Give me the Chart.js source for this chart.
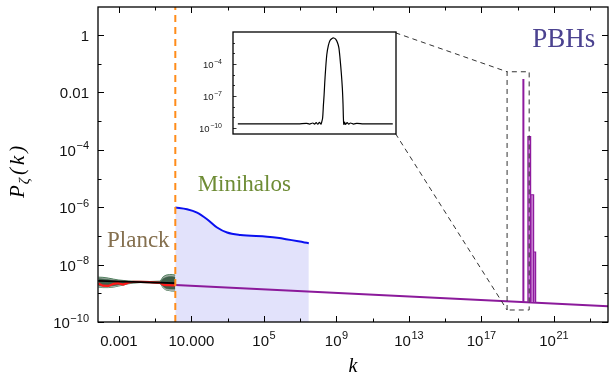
<!DOCTYPE html>
<html>
<head>
<meta charset="utf-8">
<script src="https://cdn.jsdelivr.net/npm/chart.js@4.4.1/dist/chart.umd.min.js"></script>
<style>
  html, body { margin: 0; padding: 0; background: #fff; }
  #wrap { position: relative; width: 609px; height: 383px; }
  #main { position: absolute; left: 0; top: 0; }
  #inset { position: absolute; left: 200px; top: 25px; }
</style>
</head>
<body>
<div id="wrap">
  <canvas id="main" width="609" height="383"></canvas>
  <canvas id="inset" width="200" height="115"></canvas>
</div>
<script>
// axis ticks ("^" starts the exponent)
var xTicks = [1e-3, 10, 1e5, 1e9, 1e13, 1e17, 1e21];
var xTickLabels = ["0.001", "10.000", "10^5", "10^9", "10^13", "10^17", "10^21"];
var xMinorTicks = [0.1, 1e3, 1e7, 1e11, 1e15, 1e19, 1e23];
var yTicks = [1e-10, 1e-8, 1e-6, 1e-4, 0.01, 1];
var yTickLabels = ["10^−10", "10^−8", "10^−6", "10^−4", "0.01", "1"];
var yMinorTicks = [1e-9, 1e-7, 1e-5, 1e-3, 0.1];

// Planck constraints
var planckK = [7.4e-5, 1.3e-4, 2.6e-4, 5e-4, 9e-4, 1.7e-3, 3.2e-3, 6e-3, 1.5e-2, 0.05, 0.19, 0.28, 0.4, 0.6, 0.87, 1.29];
var planckOuterHi = [3.66e-9, 3.60e-9, 3.39e-9, 3.13e-9, 2.93e-9, 2.81e-9, 2.70e-9, 2.64e-9, 2.62e-9, 2.58e-9, 2.66e-9, 3.82e-9, 4.31e-9, 4.49e-9, 4.49e-9, 4.31e-9];
var planckOuterLo = [1.64e-9, 1.58e-9, 1.58e-9, 1.64e-9, 1.78e-9, 1.93e-9, 2.13e-9, 2.27e-9, 2.36e-9, 2.32e-9, 2.18e-9, 1.52e-9, 1.29e-9, 1.24e-9, 1.19e-9, 1.19e-9];
var planckInnerHi = [3.25e-9, 3.18e-9, 3.00e-9, 2.81e-9, 2.70e-9, 2.64e-9, 2.58e-9, 2.54e-9, 2.52e-9, 2.50e-9, 2.52e-9, 3.25e-9, 3.66e-9, 3.82e-9, 3.82e-9, 3.66e-9];
var planckInnerLo = [1.85e-9, 1.78e-9, 1.78e-9, 1.85e-9, 1.96e-9, 2.07e-9, 2.23e-9, 2.32e-9, 2.40e-9, 2.38e-9, 2.28e-9, 1.71e-9, 1.48e-9, 1.42e-9, 1.40e-9, 1.40e-9];
var planckRed = [2.18e-9, 1.85e-9, 1.81e-9, 2.13e-9, 2.27e-9, 2.01e-9, 2.36e-9, 2.52e-9, 2.50e-9, 2.44e-9, 2.32e-9, 2.01e-9, 1.93e-9, 1.93e-9, 1.88e-9, 1.88e-9];
var planckFitK = [7.2e-5, 1.29];
var planckFitP = [2.70e-9, 2.27e-9];

// scale-invariant spectrum
var tiltK = [1.29, 9.6e23];
var tiltP = [1.93e-9, 3.52e-10];

// minihalo bound
var cutoffK = 1.29;
var miniK = [1.29, 5.7, 20.4, 72.8, 259, 927, 5040, 1.5e5, 5.4e5, 2.99e7];
var miniP = [9.8e-7, 8.5e-7, 6.5e-7, 3.82e-7, 1.96e-7, 1.31e-7, 1.08e-7, 9.4e-8, 8.65e-8, 5.57e-8];

// PBH peaks
var spikeLeftK = [2.06e19, 3.66e19, 5.16e19, 7.18e19];
var spikeRightK = [2.06e19, 5.16e19, 7.55e19, 9.75e19];
var spikePeak = [2.93e-2, 2.87e-4, 2.72e-6, 2.75e-8];
var spikeBase = 5.0e-10;

// zoom box and inset
var zoomBoxK = [2.6e18, 4.3e19];
var zoomBoxP = [2.62e-10, 5.26e-2];
var insetCornerK = 1.8e12;
var insetCornerP = [3.7e-4, 1.2];
var insetLogK = [18.456, 18.906, 18.967, 18.991, 19.015, 19.028, 19.040, 19.052, 19.064, 19.076, 19.082, 19.088, 19.094, 19.099, 19.106, 19.119, 19.131, 19.143, 19.158, 19.171, 19.185, 19.199, 19.209, 19.218, 19.227, 19.235, 19.240, 19.243, 19.246, 19.252, 19.258, 19.271, 19.283, 19.295, 19.319, 19.343, 19.392, 19.611];
var insetP = [2.5e-10, 2.5e-10, 2.8e-10, 2.4e-10, 3.0e-10, 2.4e-10, 3.2e-10, 2.3e-10, 3.5e-10, 2.3e-10, 4e-10, 8.7e-10, 1.5e-8, 1.26e-7, 5e-6, 7.4e-4, 5.5e-3, 1.6e-2, 2.5e-2, 2.75e-2, 2.1e-2, 1.0e-2, 3.5e-3, 3.2e-4, 1.6e-5, 5.6e-7, 2e-8, 8.7e-10, 2.2e-10, 3.6e-10, 2.2e-10, 3.2e-10, 2.3e-10, 3.0e-10, 2.4e-10, 2.8e-10, 2.5e-10, 2.5e-10];
var insetYTicks = [1e-10, 1e-7, 1e-4];
var insetYTickLabels = ["10^−10", "10^−7", "10^−4"];
var insetYMinor = [1e-9, 1e-8, 1e-6, 1e-5, 1e-3, 1e-2];

var annotations = [
  { text: "PBHs", k: 3.5e21, p: 0.37, color: "#4b4290", size: 27, align: "center" },
  { text: "Minihalos", k: 22, p: 3.7e-6, color: "#6e8c35", size: 23, align: "left" },
  { text: "Planck", k: 2.2e-4, p: 4.0e-8, color: "#85704f", size: 23, align: "left" }
];

function pts(xs, ys) {
  return xs.map(function (x, i) { return { x: x, y: ys[i] }; });
}

var serif = "'Liberation Serif', 'Times New Roman', serif";
var sans = "'Liberation Sans', Arial, sans-serif";

// tick label with optional raised exponent
function drawLabel(ctx, label, x, y, align, size, expSize, raise) {
  var parts = label.split('^');
  ctx.font = size + 'px ' + sans;
  var w1 = ctx.measureText(parts[0]).width;
  var w2 = 0;
  if (parts[1]) {
    ctx.font = expSize + 'px ' + sans;
    w2 = ctx.measureText(parts[1]).width + 0.5;
  }
  var x0 = align === 'right' ? x - w1 - w2 : (align === 'center' ? x - (w1 + w2) / 2 : x);
  ctx.textAlign = 'left';
  ctx.textBaseline = 'alphabetic';
  ctx.font = size + 'px ' + sans;
  ctx.fillText(parts[0], x0, y);
  if (parts[1]) {
    ctx.font = expSize + 'px ' + sans;
    ctx.fillText(parts[1], x0 + w1 + 0.5, y - raise);
  }
}

var datasets = [
  { data: pts(planckK, planckOuterHi), fill: '+1', backgroundColor: '#a8b0a9', borderColor: '#4f7f5e', borderWidth: 1, order: 5 },
  { data: pts(planckK, planckOuterLo), fill: false, borderColor: '#4f7f5e', borderWidth: 1, order: 5 },
  { data: pts(planckK, planckInnerHi), fill: '+1', backgroundColor: '#3f5e4a', borderColor: '#3f6a50', borderWidth: 0.5, order: 4 },
  { data: pts(planckK, planckInnerLo), fill: false, borderColor: '#3f6a50', borderWidth: 0.5, order: 4 },
  { data: pts(planckK, planckRed), borderColor: '#ff1a1a', borderWidth: 2.2, order: 3 },
  { data: pts(planckFitK, planckFitP), borderColor: '#000', borderWidth: 1.8, order: 2 },
  { data: pts(tiltK, tiltP), borderColor: '#8b1a9b', borderWidth: 2, order: 6 },
  { data: pts(miniK, miniP), fill: 'start', backgroundColor: '#e2e2fb', borderColor: '#0a10f0', borderWidth: 2, cubicInterpolationMode: 'monotone', order: 7 },
  { data: [{ x: cutoffK, y: 1e-10 }, { x: cutoffK, y: 9.5 }], borderColor: '#ff8c1a', borderWidth: 2, borderDash: [7, 5], order: 1 },
  { data: [{ x: zoomBoxK[0], y: zoomBoxP[0] }, { x: zoomBoxK[0], y: zoomBoxP[1] }, { x: zoomBoxK[1], y: zoomBoxP[1] }, { x: zoomBoxK[1], y: zoomBoxP[0] }, { x: zoomBoxK[0], y: zoomBoxP[0] }],
    borderColor: '#333', borderWidth: 1, borderDash: [5, 4], order: 0 },
  { data: [{ x: insetCornerK, y: insetCornerP[1] }, { x: zoomBoxK[0], y: zoomBoxP[1] }, { x: insetCornerK, y: null },
           { x: insetCornerK, y: insetCornerP[0] }, { x: zoomBoxK[0], y: zoomBoxP[0] }],
    borderColor: '#333', borderWidth: 1, borderDash: [5, 4], order: 0 }
];

spikePeak.forEach(function (peak, i) {
  var l = spikeLeftK[i], r = spikeRightK[i];
  datasets.push({
    data: [{ x: l, y: spikeBase }, { x: l, y: peak }, { x: r, y: peak }, { x: r, y: spikeBase }],
    fill: { value: spikeBase }, backgroundColor: '#c47ccf', borderColor: '#8e1a9e',
    borderWidth: l === r ? 2 : 1.2, order: 0
  });
});

// frame, inside ticks, tick labels, labels on the plot, axis titles
var decorations = {
  id: 'decorations',
  afterDraw: function (chart) {
    var ctx = chart.ctx, a = chart.chartArea, xs = chart.scales.x, ys = chart.scales.y;
    ctx.save();
    ctx.strokeStyle = '#000';
    ctx.lineWidth = 1.3;
    ctx.strokeRect(a.left, a.top, a.right - a.left, a.bottom - a.top);
    ctx.lineWidth = 1;
    function xt(v, len) {
      var p = Math.round(xs.getPixelForValue(v)) + 0.5;
      ctx.beginPath();
      ctx.moveTo(p, a.bottom); ctx.lineTo(p, a.bottom - len);
      ctx.moveTo(p, a.top); ctx.lineTo(p, a.top + len);
      ctx.stroke();
    }
    function yt(v, len) {
      var p = Math.round(ys.getPixelForValue(v)) + 0.5;
      ctx.beginPath();
      ctx.moveTo(a.left, p); ctx.lineTo(a.left + len, p);
      ctx.moveTo(a.right, p); ctx.lineTo(a.right - len, p);
      ctx.stroke();
    }
    xTicks.forEach(function (v) { xt(v, 6); });
    xMinorTicks.forEach(function (v) { xt(v, 3.5); });
    yTicks.forEach(function (v) { yt(v, 6); });
    yMinorTicks.forEach(function (v) { yt(v, 3.5); });

    ctx.fillStyle = '#111';
    xTicks.forEach(function (v, i) {
      drawLabel(ctx, xTickLabels[i], xs.getPixelForValue(v), a.bottom + 23.5, 'center', 15, 11, 6.5);
    });
    yTicks.forEach(function (v, i) {
      drawLabel(ctx, yTickLabels[i], a.left - 9, ys.getPixelForValue(v) + 6, 'right', 15, 11, 6.5);
    });

    annotations.forEach(function (t) {
      ctx.font = t.size + 'px ' + serif;
      ctx.fillStyle = t.color;
      ctx.textAlign = t.align;
      ctx.textBaseline = 'alphabetic';
      ctx.fillText(t.text, xs.getPixelForValue(t.k), ys.getPixelForValue(t.p));
    });

    // x title
    ctx.fillStyle = '#000';
    ctx.textAlign = 'center';
    ctx.font = 'italic 20px ' + serif;
    ctx.fillText('k', (a.left + a.right) / 2, 372);

    // y title P_zeta(k)
    ctx.translate(24, 198);
    ctx.rotate(-Math.PI / 2);
    ctx.textAlign = 'left';
    ctx.font = 'italic 21px ' + serif;
    ctx.fillText('P', 0, 0);
    var pw = ctx.measureText('P').width;
    ctx.font = 'italic 15px ' + serif;
    ctx.fillText('ζ', pw + 1, 5);
    var zw = ctx.measureText('ζ').width;
    ctx.font = 'italic 21px ' + serif;
    ctx.letterSpacing = '3px';
    ctx.fillText('(k)', pw + zw + 4, 0);
    ctx.restore();
  }
};

new Chart(document.getElementById('main'), {
  type: 'line',
  data: { datasets: datasets },
  options: {
    responsive: false,
    animation: false,
    devicePixelRatio: 1,
    layout: { padding: { top: 7, right: 1, left: 0, bottom: 0 } },
    elements: { point: { radius: 0 }, line: { tension: 0 } },
    plugins: { legend: { display: false }, tooltip: { enabled: false } },
    scales: {
      x: {
        type: 'logarithmic', min: 7.2e-5, max: 9.6e23,
        afterBuildTicks: function (s) { s.ticks = xTicks.map(function (v) { return { value: v }; }); },
        afterFit: function (s) { s.height = 61; },
        grid: { display: false, drawTicks: false },
        border: { display: false },
        ticks: { display: false }
      },
      y: {
        type: 'logarithmic', min: 1e-10, max: 9.5,
        afterBuildTicks: function (s) { s.ticks = yTicks.map(function (v) { return { value: v }; }); },
        afterFit: function (s) { s.width = 98; },
        grid: { display: false, drawTicks: false },
        border: { display: false },
        ticks: { display: false }
      }
    }
  },
  plugins: [decorations]
});

// inset: zoom on the PBH peak
var insetFrame = {
  id: 'insetFrame',
  beforeDraw: function (chart) {
    var ctx = chart.ctx, a = chart.chartArea;
    ctx.save();
    ctx.fillStyle = '#fff';
    ctx.fillRect(a.left, a.top, a.right - a.left, a.bottom - a.top);
    ctx.restore();
  },
  afterDraw: function (chart) {
    var ctx = chart.ctx, a = chart.chartArea, ys = chart.scales.y;
    ctx.save();
    ctx.strokeStyle = '#000';
    ctx.lineWidth = 1.3;
    ctx.strokeRect(a.left, a.top, a.right - a.left, a.bottom - a.top);
    ctx.lineWidth = 0.8;
    function yt(v, len) {
      var p = Math.round(ys.getPixelForValue(v)) + 0.5;
      ctx.beginPath();
      ctx.moveTo(a.left, p); ctx.lineTo(a.left + len, p);
      ctx.stroke();
    }
    insetYTicks.forEach(function (v) { yt(v, 3.5); });
    insetYMinor.forEach(function (v) { yt(v, 2); });
    ctx.fillStyle = '#222';
    insetYTicks.forEach(function (v, i) {
      drawLabel(ctx, insetYTickLabels[i], a.left - 11, ys.getPixelForValue(v) + 3.5, 'right', 9.5, 7, 4);
    });
    ctx.restore();
  }
};

new Chart(document.getElementById('inset'), {
  type: 'line',
  data: {
    datasets: [{
      data: pts(insetLogK, insetP), borderColor: '#000', borderWidth: 1.2,
      pointRadius: 0, tension: 0.3
    }]
  },
  options: {
    responsive: false,
    animation: false,
    devicePixelRatio: 1,
    layout: { padding: { top: 7, right: 4, left: 0, bottom: 6 } },
    plugins: { legend: { display: false }, tooltip: { enabled: false } },
    scales: {
      x: { type: 'linear', min: 18.42, max: 19.635, display: false },
      y: {
        type: 'logarithmic', min: 2.8e-11, max: 0.1,
        afterBuildTicks: function (s) { s.ticks = insetYTicks.map(function (v) { return { value: v }; }); },
        afterFit: function (s) { s.width = 33; },
        grid: { display: false, drawTicks: false },
        border: { display: false },
        ticks: { display: false }
      }
    }
  },
  plugins: [insetFrame]
});
</script>
</body>
</html>
